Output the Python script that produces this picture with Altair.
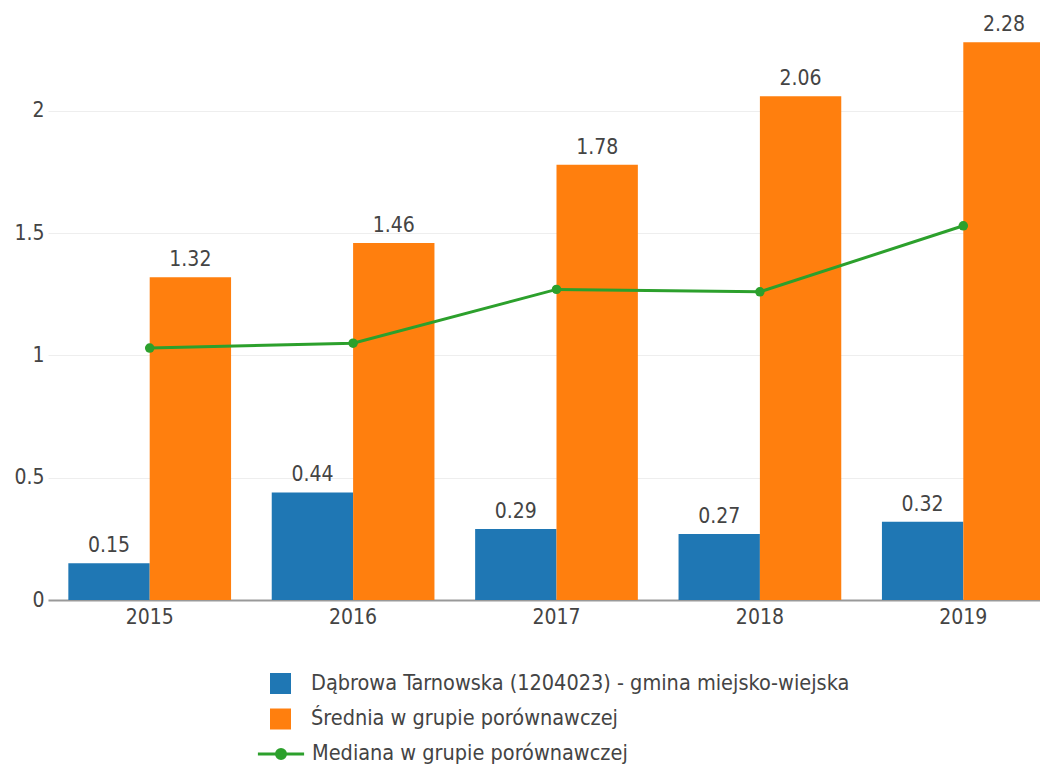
import altair as alt
import pandas as pd

years = ["2015", "2016", "2017", "2018", "2019"]
gmina = [0.15, 0.44, 0.29, 0.27, 0.32]
srednia = [1.32, 1.46, 1.78, 2.06, 2.28]
mediana = [1.03, 1.05, 1.27, 1.26, 1.53]
series = [
    "Dąbrowa Tarnowska (1204023) - gmina miejsko-wiejska",
    "Średnia w grupie porównawczej",
    "Mediana w grupie porównawczej",
]
colors = ["#1f77b4", "#ff7f0e", "#2ca02c"]
y_ticks = [0, 0.5, 1, 1.5, 2]

FONT = "DejaVu Sans Condensed, DejaVu Sans"
TXT = "#444444"
FS = 21

bars_df = pd.DataFrame({
    "year": years * 2,
    "value": gmina + srednia,
    "series": [series[0]] * 5 + [series[1]] * 5,
})
line_df = pd.DataFrame({"year": years, "value": mediana, "series": [series[2]] * 5})

LINE_PATH = "M-2.2,0L2.2,0M0.43,0A0.43,0.43,0,1,1,-0.43,0A0.43,0.43,0,1,1,0.43,0Z"

legend_common = dict(
    title=None,
    orient="none",
    direction="vertical",
    padding=0,
    symbolSize=441,
    labelFontSize=21.5,
    labelFont=FONT,
    labelColor=TXT,
    labelLimit=0,
    labelOffset=19,
    rowPadding=13.5,
    legendX=221,
)

color = alt.Color(
    "series:N",
    scale=alt.Scale(domain=series[:2], range=colors[:2]),
    legend=alt.Legend(symbolType="square", legendY=659, **legend_common),
)
stroke = alt.Stroke(
    "series:N",
    scale=alt.Scale(domain=series[2:], range=colors[2:]),
    legend=alt.Legend(
        symbolType=LINE_PATH, symbolStrokeWidth=3, symbolFillColor=colors[2],
        symbolOpacity=1, legendY=729, **legend_common,
    ),
)

x = alt.X(
    "year:N",
    scale=alt.Scale(range=[0, 1017], paddingInner=0.2, paddingOuter=0.1),
    axis=alt.Axis(
        title=None, labelAngle=0, ticks=False, domainColor="#999999", domainWidth=2,
        labelFontSize=FS, labelFont=FONT, labelColor=TXT, labelPadding=6, grid=False,
    ),
)
y = alt.Y(
    "value:Q",
    scale=alt.Scale(domain=[0, 2.4], nice=False),
    axis=alt.Axis(
        title=None, values=y_ticks, format=".1~f", ticks=False, domain=False,
        gridColor="#eeeeee", gridWidth=1, labelFontSize=FS, labelFont=FONT,
        labelColor=TXT, labelPadding=4,
    ),
)
xoff = alt.XOffset("series:N", scale=alt.Scale(domain=series[:2], paddingInner=0, paddingOuter=0))

bars = alt.Chart(bars_df).mark_bar().encode(x=x, y=y, xOffset=xoff, color=color)
labels = alt.Chart(bars_df).mark_text(
    dy=-11, baseline="alphabetic", fontSize=FS, font=FONT, color=TXT
).encode(x=x, y=y, xOffset=xoff, text=alt.Text("value:Q", format=".2f"))
line = alt.Chart(line_df).mark_line(strokeWidth=3).encode(x=x, y=y, stroke=stroke)
points = alt.Chart(line_df).mark_circle(size=90, opacity=1, color=colors[2]).encode(x=x, y=y)

chart = alt.layer(bars, labels, line, points).properties(
    width=992,
    height=587,
    autosize=alt.AutoSizeParams(type="none"),
    padding={"left": 40, "top": 5, "right": 0, "bottom": 164},
).configure(font=FONT).configure_view(stroke=None)

chart.save("out.html", embed_options={"renderer": "svg", "actions": False})
